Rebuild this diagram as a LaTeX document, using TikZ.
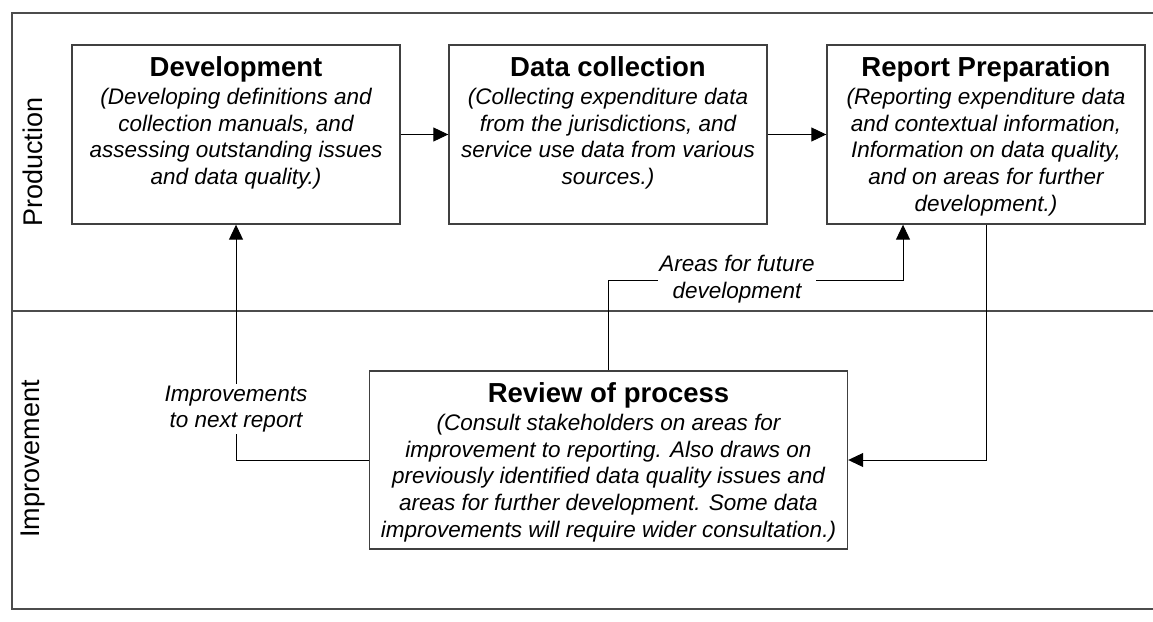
\documentclass[tikz,border=0pt]{standalone}
\usepackage{fontspec}
\setmainfont{Liberation Sans}
\usetikzlibrary{arrows.meta,positioning,calc}

\tikzset{
  frame/.style={line width=1.4pt, draw=black!70},
  stage/.style={rectangle, draw=black!75, line width=1.4pt, inner sep=0pt},
  stagetext/.style={align=center, inner sep=0pt, font=\fontsize{22.5}{26.7}\selectfont\itshape},
  flow/.style={line width=1pt, -{Triangle[length=15pt,width=14pt]}},
  lbl/.style={align=center, fill=white, inner sep=1.5pt, font=\fontsize{22.5}{26.7}\selectfont\itshape},
  lane/.style={rotate=90, inner sep=0pt, font=\fontsize{27}{32}\selectfont}
}
\newcommand{\stagetitle}[1]{{\fontsize{27.5}{33}\selectfont\bfseries\upshape #1}}

% Stage box: #1 name, #2 x, #3 y, #4 width, #5 height, #6 text
\newcommand{\drawstage}[6]{
  \node[stage, minimum width=#4pt, minimum height=#5pt] (#1) at (#2,#3) {};
  \node[stagetext, anchor=north] (#1txt) at ([yshift=-12pt]#1.north) {#6};
}

\begin{document}
\begin{tikzpicture}[x=1pt, y=-1pt]
\useasboundingbox (0,0) rectangle (1153,621);

% Swim lanes
\draw[frame] (1153,13) -- (12,13) -- (12,609) -- (1153,609);
\draw[frame] (12,311) -- (1153,311);
\node[lane] (prod) at (33,162) {Production};
\node[lane] (impr) at (33,459) {Improvement};

% Production stages
\drawstage{dev}{236}{134.5}{328}{179}{\stagetitle{Development}\\[1.3pt]
  (Developing definitions and\\collection manuals, and\\assessing outstanding issues\\and data quality.)}
\drawstage{data}{608}{134.5}{318}{179}{\stagetitle{Data collection}\\[1.3pt]
  (Collecting expenditure data\\from the jurisdictions, and\\service use data from various\\sources.)}
\drawstage{rep}{986}{134.5}{318}{179}{\stagetitle{Report Preparation}\\[1.3pt]
  (Reporting expenditure data\\and contextual information,\\Information on data quality,\\and on areas for further\\development.)}

% Improvement stage
\drawstage{rev}{608.5}{460}{478}{178}{\stagetitle{Review of process}\\[1.3pt]
  (Consult stakeholders on areas for\\improvement to reporting. Also draws on\\previously identified data quality issues and\\areas for further development. Some data\\improvements will require wider consultation.)}

% Flow between stages
\draw[flow] (dev) -- (data);
\draw[flow] (data) -- (rep);
\draw[flow] (rep.south) |- (rev.east);
\draw[flow] (rev.west) -| (dev.south);
\coordinate (fut) at (903,280);
\draw[flow] (rev.north) |- (fut) -- (fut |- rep.south);

% Connector labels
\node[lbl] (nextrep) at (236,409) {Improvements\\to next report};
\node[lbl] (futdev) at (737,279) {Areas for future\\development};

\end{tikzpicture}
\end{document}
